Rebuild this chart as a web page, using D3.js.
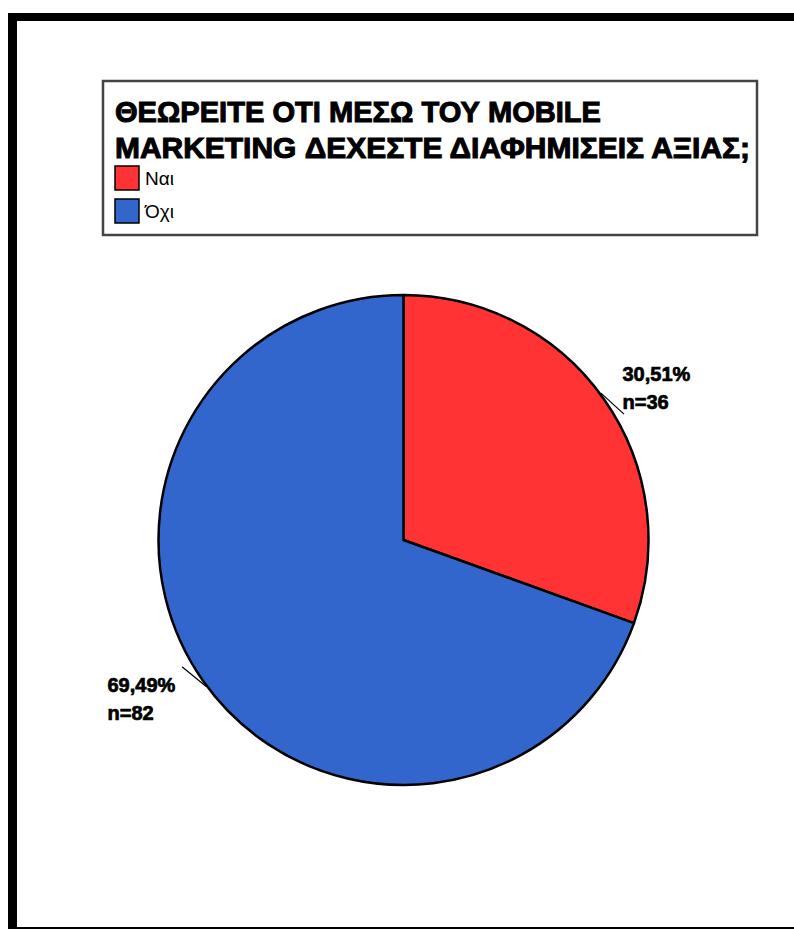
<!DOCTYPE html>
<html>
<head>
<meta charset="utf-8">
<script src="https://cdn.jsdelivr.net/npm/d3@7"></script>
<style>
  html, body { margin: 0; padding: 0; background: #fff; }
  svg { display: block; }
</style>
</head>
<body>
<script>
// Survey answers and counts
const categories = ["Ναι", "Όχι"];
const counts = [36, 82];
const percentLabels = ["30,51%", "69,49%"];
const colors = ["#FF3333", "#3366CC"];
const titleLines = ["ΘΕΩΡΕΙΤΕ ΟΤΙ ΜΕΣΩ ΤΟΥ MOBILE", "MARKETING ΔΕΧΕΣΤΕ ΔΙΑΦΗΜΙΣΕΙΣ ΑΞΙΑΣ;"];

const W = 794, H = 929;
const svg = d3.select("body").append("svg").attr("width", W).attr("height", H);

// Outer frame (left, top and bottom bars)
svg.append("rect").attr("x", 8).attr("y", 13).attr("width", 9).attr("height", H - 13).attr("fill", "#000");
svg.append("rect").attr("x", 8).attr("y", 13).attr("width", W - 8).attr("height", 8).attr("fill", "#000");
svg.append("rect").attr("x", 8).attr("y", 927).attr("width", W - 8).attr("height", 3).attr("fill", "#000");

// Legend box
const lg = svg.append("g");
lg.append("rect").attr("x", 103).attr("y", 81).attr("width", 654).attr("height", 154)
  .attr("fill", "#fff").attr("stroke", "#444").attr("stroke-width", 2.5);

const titleWidths = [486, 635];
lg.selectAll("text.title").data(titleLines).enter().append("text")
  .attr("class", "title")
  .attr("x", 115)
  .attr("y", (d, i) => 122 + i * 36)
  .attr("textLength", (d, i) => titleWidths[i])
  .attr("lengthAdjust", "spacingAndGlyphs")
  .style("font-family", "'Liberation Sans', Arial, sans-serif")
  .style("font-weight", "bold")
  .style("font-size", "29px")
  .attr("fill", "#000")
  .attr("stroke", "#000")
  .attr("stroke-width", 1)
  .text(d => d);

const items = lg.selectAll("g.item").data(categories).enter().append("g")
  .attr("class", "item")
  .attr("transform", (d, i) => `translate(115, ${166 + i * 33})`);
items.append("rect").attr("width", 24).attr("height", 24)
  .attr("fill", (d, i) => colors[i]).attr("stroke", "#000").attr("stroke-width", 1.5);
items.append("text").attr("x", 30).attr("y", 19)
  .style("font-family", "'Liberation Sans', Arial, sans-serif")
  .style("font-size", "19px")
  .attr("fill", "#000")
  .text(d => d);

// Pie
const cx = 403.5, cy = 540, r = 245;
const pie = d3.pie().sort(null).value(d => d);
const arcs = pie(counts);
const arc = d3.arc().innerRadius(0).outerRadius(r);
const edge = d3.arc().innerRadius(r).outerRadius(r);

const g = svg.append("g").attr("transform", `translate(${cx},${cy})`);
g.selectAll("path").data(arcs).enter().append("path")
  .attr("d", arc)
  .attr("fill", (d, i) => colors[i])
  .attr("stroke", "#000")
  .attr("stroke-width", 2.5)
  .attr("stroke-linejoin", "round");

// Leader lines and value labels
const leaderEnd = [[20, 15], [-21, -14]];
const labelPos = [[219, -159], [-296, 152]];
arcs.forEach((a, i) => {
  const [px, py] = edge.centroid(a);
  g.append("line")
    .attr("x1", px - leaderEnd[i][0] * 0.15).attr("y1", py - leaderEnd[i][1] * 0.4)
    .attr("x2", px + leaderEnd[i][0]).attr("y2", py + leaderEnd[i][1])
    .attr("stroke", "#000").attr("stroke-width", 1.2);
  const t = g.append("text")
    .attr("x", labelPos[i][0]).attr("y", labelPos[i][1])
    .style("font-family", "'Liberation Sans', Arial, sans-serif")
    .style("font-weight", "bold")
    .style("font-size", "20px")
    .attr("fill", "#000")
    .attr("stroke", "#000")
    .attr("stroke-width", 0.7);
  t.append("tspan").attr("x", labelPos[i][0]).text(percentLabels[i]);
  t.append("tspan").attr("x", labelPos[i][0]).attr("dy", 28).text("n=" + counts[i]);
});
</script>
</body>
</html>
